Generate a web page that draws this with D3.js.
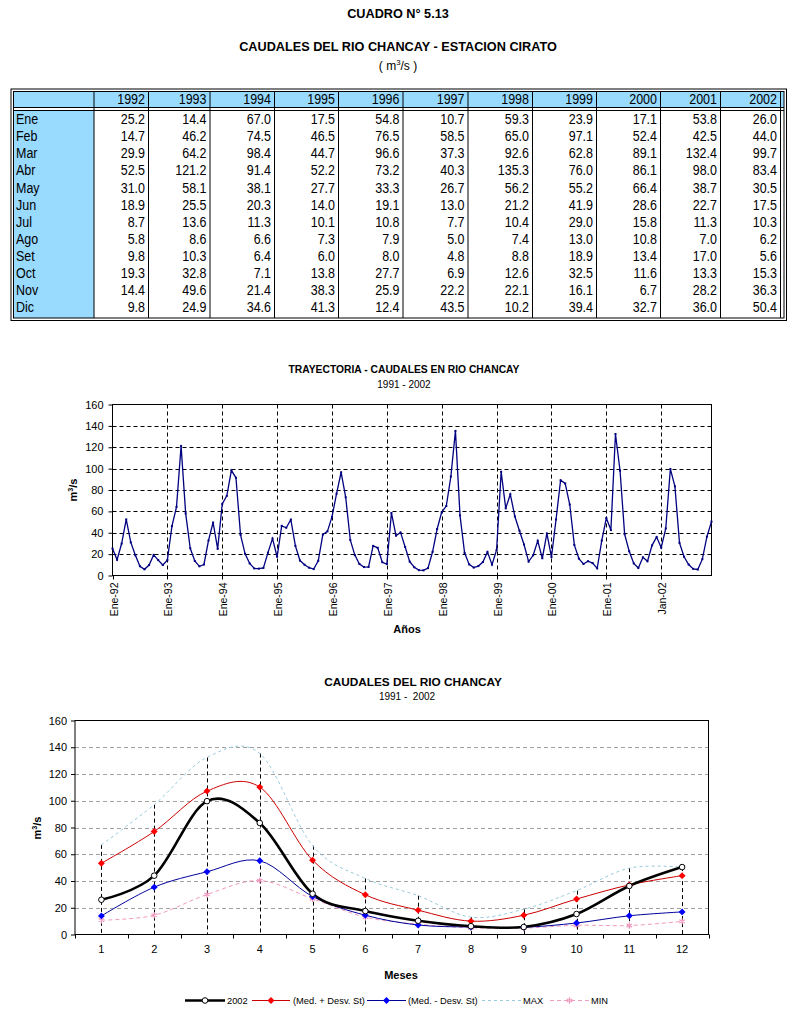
<!DOCTYPE html>
<html><head><meta charset="utf-8">
<script src="https://cdn.jsdelivr.net/npm/d3@7"></script>
<style>
body{margin:0;background:#fff}
svg{display:block}
text{font-family:"Liberation Sans",Arial,Helvetica,sans-serif;fill:#000}
</style>
</head><body>
<svg id="c" width="793" height="1017"></svg>
<script>
// ---------------- DATA ----------------
const years = ["1992","1993","1994","1995","1996","1997","1998","1999","2000","2001","2002"];
const months = ["Ene","Feb","Mar","Abr","May","Jun","Jul","Ago","Set","Oct","Nov","Dic"];
const q1992 = [25.2,14.7,29.9,52.5,31.0,18.9,8.7,5.8,9.8,19.3,14.4,9.8];
const q1993 = [14.4,46.2,64.2,121.2,58.1,25.5,13.6,8.6,10.3,32.8,49.6,24.9];
const q1994 = [67.0,74.5,98.4,91.4,38.1,20.3,11.3,6.6,6.4,7.1,21.4,34.6];
const q1995 = [17.5,46.5,44.7,52.2,27.7,14.0,10.1,7.3,6.0,13.8,38.3,41.3];
const q1996 = [54.8,76.5,96.6,73.2,33.3,19.1,10.8,7.9,8.0,27.7,25.9,12.4];
const q1997 = [10.7,58.5,37.3,40.3,26.7,13.0,7.7,5.0,4.8,6.9,22.2,43.5];
const q1998 = [59.3,65.0,92.6,135.3,56.2,21.2,10.4,7.4,8.8,12.6,22.1,10.2];
const q1999 = [23.9,97.1,62.8,76.0,55.2,41.9,29.0,13.0,18.9,32.5,16.1,39.4];
const q2000 = [17.1,52.4,89.1,86.1,66.4,28.6,15.8,10.8,13.4,11.6,6.7,32.7];
const q2001 = [53.8,42.5,132.4,98.0,38.7,22.7,11.3,7.0,17.0,13.3,28.2,36.0];
const q2002 = [26.0,44.0,99.7,83.4,30.5,17.5,10.3,6.2,5.6,15.3,36.3,50.4];
const yearSeries = [q1992,q1993,q1994,q1995,q1996,q1997,q1998,q1999,q2000,q2001,q2002];

const trajTickLabels = ["Ene-92","Ene-93","Ene-94","Ene-95","Ene-96","Ene-97","Ene-98","Ene-99","Ene-00","Ene-01","Jan-02"];
const monthNums = [1,2,3,4,5,6,7,8,9,10,11,12];
const medPlus  = [53.3,77.0,107.2,110.2,55.6,29.7,18.2,10.0,14.4,26.5,37.1,44.0];
const medMinus = [13.9,35.4,46.9,55.1,28.4,14.4,7.1,5.6,5.4,8.6,14.0,16.9];
const maxQ     = [67.0,97.1,132.4,135.3,66.4,41.9,29.0,13.0,18.9,32.8,49.6,50.4];
const minQ     = [10.7,14.4,29.9,40.3,26.7,13.0,7.7,5.0,4.8,6.9,6.7,9.8];
const yTicks = [0,20,40,60,80,100,120,140,160];

// ---------------- SETUP ----------------
const svg = d3.select("#c");
const FONT = '"Liberation Sans",Arial,sans-serif';

function supText(g, x, y, parts, opts){
  const t = g.append("text").attr("x",x).attr("y",y)
    .attr("text-anchor",opts.anchor||"middle")
    .attr("font-size",opts.size).attr("font-weight",opts.weight||"normal");
  if(opts.transform) t.attr("transform",opts.transform);
  t.append("tspan").text(parts[0]);
  t.append("tspan").attr("dy",-opts.size*0.38).attr("font-size",opts.size*0.65).text(parts[1]);
  t.append("tspan").attr("dy",opts.size*0.38).text(parts[2]);
  return t;
}

// ---------------- TITLES ----------------
svg.append("text").attr("x",398).attr("y",18).attr("text-anchor","middle")
  .attr("font-size",12.7).attr("font-weight","bold").text("CUADRO N° 5.13");
svg.append("text").attr("x",398).attr("y",51).attr("text-anchor","middle")
  .attr("font-size",12.7).attr("font-weight","bold").text("CAUDALES DEL RIO CHANCAY - ESTACION CIRATO");
supText(svg, 398, 70, ["( m","3","/s )"], {size:12});

// ---------------- TABLE ----------------
const colEdges = [13.5,94,148.5,210,274.5,338.5,403,468,532.5,596.5,660.5,720.5,780.5];
const tbl = svg.append("g");
const blue = "#99DAFF";
const headTop = 91.5, headBot = 107.5, bodyTop = 110.5, tblBot = 318, rightInner = 784;
const rowScale = d3.scaleBand().domain(months).range([bodyTop+0.5, 316.5]);
const colScale = d3.scaleOrdinal().domain(years).range(colEdges.slice(2));

tbl.append("rect").attr("x",colEdges[0]).attr("y",headTop).attr("width",rightInner-colEdges[0]).attr("height",headBot-headTop).attr("fill",blue);
tbl.append("rect").attr("x",colEdges[0]).attr("y",bodyTop).attr("width",colEdges[1]-colEdges[0]).attr("height",tblBot-bodyTop).attr("fill",blue);
tbl.append("rect").attr("x",11).attr("y",89).attr("width",775.5).attr("height",231.5).attr("fill","none").attr("stroke","#000");
tbl.append("rect").attr("x",13.5).attr("y",91.5).attr("width",rightInner-13.5).attr("height",tblBot-91.5).attr("fill","none").attr("stroke","#000");
[headBot,bodyTop].forEach(y=>tbl.append("line").attr("x1",13.5).attr("x2",rightInner).attr("y1",y).attr("y2",y).attr("stroke","#000"));
colEdges.slice(1).forEach(x=>{
  tbl.append("line").attr("x1",x).attr("x2",x).attr("y1",headTop).attr("y2",tblBot).attr("stroke","#000");
});
function cellText(x, y, txt, anchor){
  return tbl.append("text").attr("x",x).attr("y",y).attr("text-anchor",anchor)
    .attr("font-size",12.5).attr("transform",`translate(0,${y}) scale(1,1.1) translate(0,${-y})`).text(txt);
}
years.forEach(yr=>{
  cellText(colScale(yr)-3.5, (headTop+headBot)/2+4.5, yr, "end");
});
months.forEach((m,i)=>{
  const yc = rowScale(m)+rowScale.bandwidth()/2+4.5;
  cellText(16, yc, m, "start");
  years.forEach((yr,j)=>{
    cellText(colScale(yr)-3.5, yc, yearSeries[j][i].toFixed(1), "end");
  });
});

// ---------------- TRAJECTORY CHART ----------------
const traj = yearSeries.flat();
const tx = d3.scaleLinear().domain([0,traj.length-1]).range([112.5,711.5]);
const ty = d3.scaleLinear().domain([0,160]).range([575.5,404.5]);
const g1 = svg.append("g");
svg.append("text").attr("x",404).attr("y",373).attr("text-anchor","middle")
  .attr("font-size",10.3).attr("font-weight","bold").text("TRAYECTORIA - CAUDALES EN RIO CHANCAY");
svg.append("text").attr("x",404).attr("y",388).attr("text-anchor","middle")
  .attr("font-size",10).text("1991 - 2002");

yTicks.filter(v=>v>0&&v<160).forEach(v=>{
  g1.append("line").attr("x1",tx.range()[0]).attr("x2",tx.range()[1]).attr("y1",Math.round(ty(v))+0.5).attr("y2",Math.round(ty(v))+0.5)
    .attr("stroke","#000").attr("stroke-dasharray","4,3");
});
const yearIdx = trajTickLabels.map((d,i)=>i*12);
yearIdx.filter(i=>i>0).forEach(i=>{
  const x = Math.round(tx(i))+0.5;
  g1.append("line").attr("x1",x).attr("x2",x).attr("y1",ty(160)).attr("y2",ty(0))
    .attr("stroke","#000").attr("stroke-dasharray","4,3");
});
g1.append("rect").attr("x",tx.range()[0]).attr("y",ty(160)).attr("width",tx.range()[1]-tx.range()[0]).attr("height",ty(0)-ty(160))
  .attr("fill","none").attr("stroke","#000");
const ay1 = g1.append("g").attr("transform",`translate(${tx.range()[0]},0)`)
  .call(d3.axisLeft(ty).tickValues(yTicks).tickSize(4).tickPadding(5));
ay1.select(".domain").remove();
ay1.selectAll("text").attr("font-size",11).attr("font-family",FONT).attr("fill","#000");
yearIdx.forEach((i,k)=>{
  const x = Math.round(tx(i))+0.5;
  g1.append("line").attr("x1",x).attr("x2",x).attr("y1",ty(0)).attr("y2",ty(0)+4).attr("stroke","#000");
  g1.append("text").attr("transform",`translate(${x+4},${ty(0)+7}) rotate(-90)`)
    .attr("text-anchor","end").attr("font-size",10.5).text(trajTickLabels[k]);
});
g1.append("path").datum(traj)
  .attr("d",d3.line().x((d,i)=>tx(i)).y(d=>ty(d)))
  .attr("fill","none").attr("stroke","#000080").attr("stroke-width",1.3);
g1.selectAll("rect.pt").data(traj).join("rect").attr("class","pt")
  .attr("x",(d,i)=>tx(i)-1).attr("y",d=>ty(d)-1).attr("width",2).attr("height",2).attr("fill","#000080");
supText(svg, 0, 0, ["m","3","/s"], {size:11, weight:"bold", transform:"translate(77,490) rotate(-90)"});
svg.append("text").attr("x",407).attr("y",633).attr("text-anchor","middle")
  .attr("font-size",11).attr("font-weight","bold").text("Años");

// ---------------- MONTHLY CHART ----------------
const g2 = svg.append("g");
const bx = d3.scaleBand().domain(monthNums).range([75,708.5]);
const cx = m => bx(m)+bx.bandwidth()/2;
const by = d3.scaleLinear().domain([0,160]).range([934.5,720.5]);
svg.append("text").attr("x",413).attr("y",686).attr("text-anchor","middle")
  .attr("font-size",11.8).attr("font-weight","bold").text("CAUDALES DEL RIO CHANCAY");
svg.append("text").attr("x",407).attr("y",700).attr("text-anchor","middle")
  .attr("font-size",10).attr("xml:space","preserve").text("1991 -  2002");

yTicks.filter(v=>v>0&&v<160).forEach(v=>{
  const y = Math.round(by(v))+0.5;
  g2.append("line").attr("x1",75).attr("x2",708.5).attr("y1",y).attr("y2",y)
    .attr("stroke","#A0A0A0").attr("stroke-dasharray","4,3");
});
monthNums.forEach((m,i)=>{
  const top = Math.max(q2002[i],medPlus[i],medMinus[i],maxQ[i],minQ[i]);
  const x = Math.round(cx(m))+0.5;
  g2.append("line").attr("x1",x).attr("x2",x).attr("y1",by(top)).attr("y2",by(0))
    .attr("stroke","#000").attr("stroke-dasharray","4,3");
});
g2.append("rect").attr("x",75).attr("y",by(160)).attr("width",708.5-75).attr("height",by(0)-by(160))
  .attr("fill","none").attr("stroke","#000");
const ay2 = g2.append("g").attr("transform","translate(75,0)")
  .call(d3.axisLeft(by).tickValues(yTicks).tickSize(4).tickPadding(4));
ay2.select(".domain").remove();
ay2.selectAll("text").attr("font-size",11).attr("font-family",FONT).attr("fill","#000");
monthNums.concat([13]).forEach((m,i)=>{
  const x = Math.round(75 + i*bx.step())+0.5;
  g2.append("line").attr("x1",x).attr("x2",x).attr("y1",by(0)).attr("y2",by(0)+4).attr("stroke","#000");
});
monthNums.forEach(m=>{
  g2.append("text").attr("x",cx(m)).attr("y",by(0)+18).attr("text-anchor","middle")
    .attr("font-size",11).text(m);
});

const curve = d3.line().x((d,i)=>cx(monthNums[i])).y(d=>by(d)).curve(d3.curveCardinal.tension(0));
const series = [
  {name:"MAX", data:maxQ, stroke:"#99CCDD", width:1, dash:"3,3", marker:null},
  {name:"MIN", data:minQ, stroke:"#F29BC0", width:1, dash:"4,3", marker:"ast", mcol:"#F29BC0"},
  {name:"(Med. - Desv. St)", data:medMinus, stroke:"#000099", width:1, dash:null, marker:"diamond", mcol:"#0000FF"},
  {name:"(Med. + Desv. St)", data:medPlus, stroke:"#CC0000", width:1, dash:null, marker:"diamond", mcol:"#FF0000"},
  {name:"2002", data:q2002, stroke:"#000", width:2.6, dash:null, marker:"circle", mcol:"#000"}
];
function drawMarker(g, type, x, y, col){
  if(type==="diamond"){
    g.append("path").attr("d",d3.symbol(d3.symbolSquare,24)()).attr("fill",col)
      .attr("transform",`translate(${x},${y}) rotate(45)`);
  } else if(type==="circle"){
    g.append("circle").attr("cx",x).attr("cy",y).attr("r",2.8).attr("fill","#fff").attr("stroke","#000").attr("stroke-width",1);
  } else if(type==="ast"){
    g.append("path").attr("d",d3.symbol(d3.symbolAsterisk,28)()).attr("fill","none").attr("stroke",col).attr("stroke-width",1.2)
      .attr("transform",`translate(${x},${y})`);
  }
}
series.forEach(s=>{
  const p = g2.append("path").datum(s.data).attr("d",curve).attr("fill","none")
    .attr("stroke",s.stroke).attr("stroke-width",s.width);
  if(s.dash) p.attr("stroke-dasharray",s.dash);
});
series.forEach(s=>{
  if(!s.marker) return;
  s.data.forEach((v,i)=>drawMarker(g2, s.marker, cx(monthNums[i]), by(v), s.mcol));
});
supText(svg, 0, 0, ["m","3","/s"], {size:11, weight:"bold", transform:"translate(41,828) rotate(-90)"});
svg.append("text").attr("x",401).attr("y",979).attr("text-anchor","middle")
  .attr("font-size",11).attr("font-weight","bold").text("Meses");

// ---------------- LEGEND ----------------
const lg = svg.append("g");
const legendItems = [
  {s:series[4], x1:185, x2:225, tx:227},
  {s:series[3], x1:252, x2:290, tx:293},
  {s:series[2], x1:367, x2:406, tx:408},
  {s:series[0], x1:482, x2:522, tx:523},
  {s:series[1], x1:550, x2:589, tx:591}
];
const ly = 1000.5;
legendItems.forEach(it=>{
  const l = lg.append("line").attr("x1",it.x1).attr("x2",it.x2).attr("y1",ly).attr("y2",ly)
    .attr("stroke",it.s.stroke).attr("stroke-width",it.s.width);
  if(it.s.dash) l.attr("stroke-dasharray",it.s.dash);
  if(it.s.marker) drawMarker(lg, it.s.marker, (it.x1+it.x2)/2, ly, it.s.mcol);
  lg.append("text").attr("x",it.tx).attr("y",ly+3.5).attr("font-size",9.3).text(it.s.name);
});
</script>
</body></html>
